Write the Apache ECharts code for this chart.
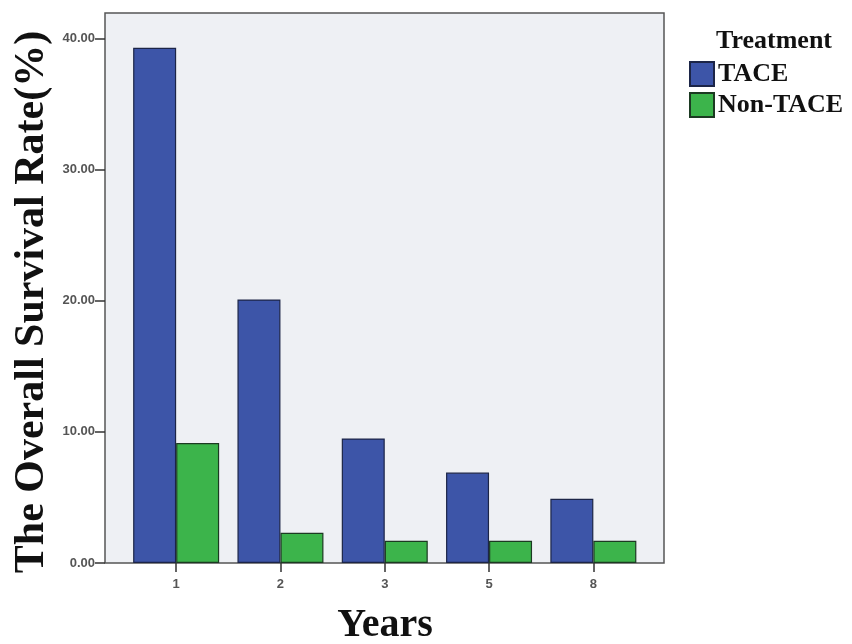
<!DOCTYPE html>
<html>
<head>
<meta charset="utf-8">
<script src="https://cdn.jsdelivr.net/npm/echarts@6/dist/echarts.min.js"></script>
<style>html,body{margin:0;padding:0;background:#fff;}#c{width:852px;height:644px;}</style>
</head>
<body>
<div id="c"></div>
<script>
var years = ['1', '2', '3', '5', '8'];
var tace = [39.3, 20.1, 9.5, 6.9, 4.9];
var nonTace = [9.15, 2.3, 1.7, 1.7, 1.7];
var yTicks = [0, 10, 20, 30, 40];
var seriesNames = ['TACE', 'Non-TACE'];

var yMax = 41.95;
var chart = echarts.init(document.getElementById('c'), null, {renderer: 'canvas'});
var serif = '"Liberation Serif", "Times New Roman", serif';
var sans = '"Liberation Sans", Arial, sans-serif';

chart.setOption({
  animation: false,
  backgroundColor: '#ffffff',
  title: {
    text: 'Treatment', left: 716, top: 28, padding: 0,
    textStyle: {fontFamily: serif, fontWeight: 'bold', fontSize: 26, color: '#111'}
  },
  legend: {
    orient: 'vertical', left: 689, top: 61, padding: 0,
    itemWidth: 24, itemHeight: 24, itemGap: 5,
    icon: 'rect',
    data: seriesNames,
    textStyle: {fontFamily: serif, fontWeight: 'bold', fontSize: 26, color: '#111', padding: [4, 0, 0, -1]}
  },
  grid: [
    {left: 105, top: 13, width: 559, height: 550, show: true,
     backgroundColor: '#eef0f4', borderColor: '#555', borderWidth: 1.5, containLabel: false},
    {left: 124, top: 13, width: 521.5, height: 550, containLabel: false}
  ],
  xAxis: [
    {gridIndex: 0, type: 'value', show: false, min: 0, max: 1},
    {gridIndex: 1, type: 'category', data: years,
     axisLine: {show: false},
     axisTick: {show: true, alignWithLabel: true, length: 9, lineStyle: {color: '#333', width: 1.5}},
     axisLabel: {fontFamily: sans, fontSize: 13, fontWeight: 'bold', color: '#555', margin: 15},
     splitLine: {show: false}}
  ],
  yAxis: [
    {gridIndex: 0, type: 'value', min: 0, max: yMax,
     axisLine: {show: false},
     axisTick: {show: true, length: 10, customValues: yTicks, lineStyle: {color: '#333', width: 1.5}},
     axisLabel: {customValues: yTicks, fontFamily: sans, fontSize: 13, fontWeight: 'bold', color: '#555', margin: 10,
       formatter: function (v) { return v.toFixed(2); }},
     splitLine: {show: false}},
    {gridIndex: 1, type: 'value', min: 0, max: yMax, show: false, splitLine: {show: false}}
  ],
  series: [
    {name: seriesNames[0], type: 'bar', xAxisIndex: 1, yAxisIndex: 1, data: tace,
     barWidth: 43, barGap: '0%',
     itemStyle: {color: '#3d55a8', borderColor: '#1c2547', borderWidth: 1.2}},
    {name: seriesNames[1], type: 'bar', xAxisIndex: 1, yAxisIndex: 1, data: nonTace,
     barWidth: 43, barGap: '0%',
     itemStyle: {color: '#3cb44b', borderColor: '#1c3a22', borderWidth: 1.2}}
  ],
  graphic: [
    {type: 'text', x: 32, y: 302, rotation: Math.PI / 2,
     style: {text: 'The Overall Survival Rate(%)', fontFamily: serif, fontWeight: 'bold', fontSize: 42,
       fill: '#111', align: 'center', verticalAlign: 'middle'}},
    {type: 'text', x: 385, y: 626,
     style: {text: 'Years', fontFamily: serif, fontWeight: 'bold', fontSize: 40,
       fill: '#111', align: 'center', verticalAlign: 'middle'}}
  ]
});
</script>
</body>
</html>
